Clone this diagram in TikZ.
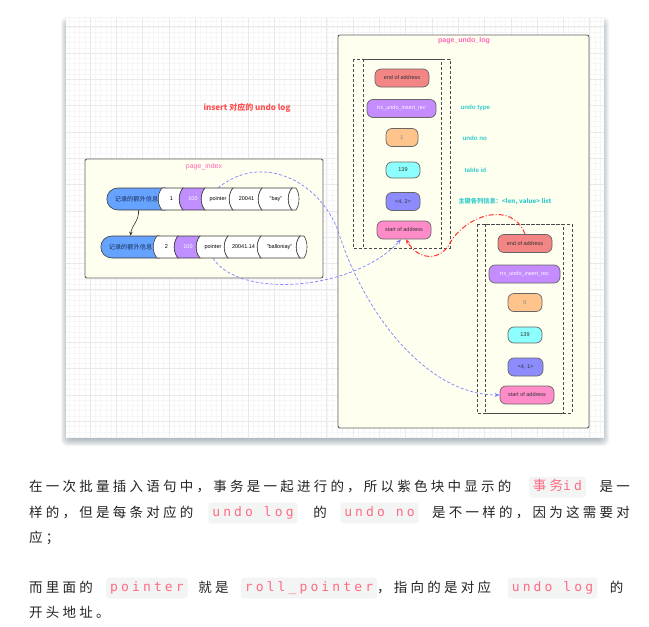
\documentclass[tikz,border=0pt]{standalone}
\usepackage{fontspec}
\setmainfont{Liberation Sans}
\newfontfamily\cjkfont{Noto Sans CJK SC}
\newfontfamily\parafont[LetterSpace=24]{Noto Sans CJK SC}
\newfontfamily\codefont[LetterSpace=24]{DejaVu Sans Mono}
\usetikzlibrary{arrows.meta,positioning,calc,shapes.misc}
\definecolor{gridMinor}{HTML}{F6F6F6}
\definecolor{gridMajor}{HTML}{E9E9E9}
\definecolor{shadowC}{HTML}{4E6573}
\definecolor{boxFill}{HTML}{FFFFF0}
\definecolor{boxLine}{HTML}{626262}
\definecolor{titlePink}{HTML}{FF66B3}
\definecolor{noteRed}{HTML}{FF4D4D}
\definecolor{labelCyan}{HTML}{33CCCC}
\definecolor{recBlue}{HTML}{66A3FF}
\definecolor{recText}{HTML}{1A2F5A}
\definecolor{recPurple}{HTML}{BF8FFF}
\definecolor{cellLine}{HTML}{3A3A3A}
\definecolor{pillLine}{HTML}{666666}
\definecolor{pillText}{HTML}{333333}
\definecolor{endRed}{HTML}{F48585}
\definecolor{trxPurple}{HTML}{C48CFF}
\definecolor{noOrange}{HTML}{FFC48C}
\definecolor{idCyan}{HTML}{8CFFFF}
\definecolor{pkBlue}{HTML}{8C8CFF}
\definecolor{startPink}{HTML}{FF8CC8}
\definecolor{stackLine}{HTML}{4A4A4A}
\definecolor{arrowDark}{HTML}{333333}
\definecolor{linkBlue}{HTML}{7F7FFF}
\definecolor{linkRed}{HTML}{FF3333}
\definecolor{paraText}{HTML}{222222}
\definecolor{codeBg}{HTML}{F3F4F4}
\definecolor{codeFg}{HTML}{FF6B81}

% one cell of a record row: left and right edges curve like "("
\newcommand\reccell[6]{%
  \filldraw[cellline,#4] (#1,#3-11) -- (#2,#3-11)
    .. controls +(-5,6) and +(-5,-6) .. (#2,#3+11) -- (#1,#3+11)
    .. controls +(-5,-6) and +(-5,6) .. (#1,#3-11) -- cycle;
  \node[celltext,#4,fill=none,minimum width={#2-#1}] (#5) at ({(#1+#2)/2-1},#3) {#6};}
\newcommand\reccap[2]{%
  \filldraw[cellline,fill=white] (#1,#2-11) -- (#1+4,#2-11)
    .. controls +(4,6) and +(4,-6) .. (#1+4,#2+11) -- (#1,#2+11)
    .. controls +(-5,-6) and +(-5,6) .. (#1,#2-11) -- cycle;}

\begin{document}
\begin{tikzpicture}[x=1pt,y=-1pt,
    gridminor/.style={draw=gridMinor,line width=0.4pt},
    gridmajor/.style={draw=gridMajor,line width=0.5pt},
    pagebox/.style={draw=boxLine,fill=boxFill,line width=0.9pt,rounded corners=2pt},
    pagetitle/.style={text=titlePink,font=\fontsize{7}{8}\selectfont},
    recbox/.style={rounded rectangle,rounded rectangle east arc=none,draw=cellLine,
                   fill=recBlue,line width=0.6pt,minimum height=22,inner sep=0pt,
                   text=recText,font=\cjkfont\fontsize{6.2}{7}\selectfont},
    cellline/.style={draw=cellLine,line width=0.6pt},
    celltext/.style={inner sep=0pt,minimum height=22,font=\fontsize{5.5}{6}\selectfont},
    undopill/.style={draw=pillLine,line width=0.7pt,rounded corners=6pt,minimum height=18,
                     inner sep=1pt,text=pillText,font=\fontsize{5.5}{6}\selectfont},
    stackbox/.style={draw=stackLine,line width=0.7pt,dash pattern=on 3pt off 2pt},
    fieldlabel/.style={anchor=west,text=labelCyan,font=\bfseries\fontsize{6.2}{7}\selectfont},
    recarr/.style={-{Stealth[length=4pt,width=3.5pt]},draw=arrowDark,line width=0.6pt},
    bluelink/.style={-{Stealth[length=5pt,width=4pt]},draw=linkBlue,line width=0.7pt,
                     dash pattern=on 3pt off 2pt},
    redlink/.style={-{Stealth[length=5pt,width=4pt]},draw=linkRed,line width=1pt,
                    dash pattern=on 5pt off 2pt on 1pt off 2pt},
    paratext/.style={inner sep=0pt,text=paraText,font=\parafont\fontsize{13.5}{16}\selectfont,
                     text height=11,text depth=2.5},
    inlinecode/.style={fill=codeBg,rounded corners=3pt,inner xsep=4pt,inner ysep=0pt,
                       minimum height=21,text=codeFg,font=\codefont\fontsize{13}{16}\selectfont,
                       text height=10,text depth=3}]
  \useasboundingbox (0,0) rectangle (649,627);

  % card with shadow and grid
  \foreach \i in {1,...,10}
    \fill[shadowC,opacity=0.07,rounded corners=6pt] (66+5-\i,18+9-\i) rectangle (604-5+\i,436+\i);
  \fill[white] (66,18) rectangle (604,437);
  \begin{scope}
    \clip (66,18) rectangle (604,437);
    \foreach \x in {68.96,74.22,...,604} \draw[gridminor] (\x,18) -- (\x,437);
    \foreach \y in {21.44,26.7,...,437} \draw[gridminor] (66,\y) -- (604,\y);
    \foreach \x in {90,116.3,...,604} \draw[gridmajor] (\x,18) -- (\x,437);
    \foreach \y in {26.7,53,...,437} \draw[gridmajor] (66,\y) -- (604,\y);
  \end{scope}

  \node[font=\cjkfont\bfseries\fontsize{8}{9}\selectfont,text=noteRed] (note) at (247,108) {insert 对应的 undo log};

  % page_index
  \draw[pagebox] (85,159) rectangle (323,278);
  \node[pagetitle] (pidx) at (204,167) {page\_index};

  \node[recbox,minimum width=59] (r1h) at (136.5,199) {记录的额外信息};
  \reccell{162}{183}{199}{fill=white}{r1a}{1}
  \reccell{183}{205}{199}{fill=recPurple,text=white}{r1b}{100}
  \reccell{205}{233}{199}{fill=white}{r1c}{pointer}
  \reccell{233}{262}{199}{fill=white}{r1d}{20041}
  \reccell{262}{292}{199}{fill=white}{r1e}{"bay"}
  \reccap{292}{199}

  \node[recbox,minimum width=59] (r2h) at (130.5,247) {记录的额外信息};
  \reccell{157}{178}{247}{fill=white}{r2a}{2}
  \reccell{178}{200}{247}{fill=recPurple,text=white}{r2b}{100}
  \reccell{200}{228}{247}{fill=white}{r2c}{pointer}
  \reccell{228}{261}{247}{fill=white}{r2d}{20041.14}
  \reccell{261}{300}{247}{fill=white}{r2e}{"balloniay"}
  \reccap{300}{247}

  \draw[recarr] ([xshift=2]r1h.south) .. controls +(1,10) and +(1,-10) .. (r2h.north);

  % page_undo_log
  \draw[pagebox] (338,35) rectangle (589,428);
  \node[pagetitle,font=\bfseries\fontsize{7}{8}\selectfont] (pundo) at (464,41) {page\_undo\_log};

  \draw[stackbox] (353,59) rectangle (450,248);
  \draw[stackbox] (363,59) rectangle (441,248);
  \node[undopill,fill=endRed,minimum width=54] (le1) at (402,78) {end of address};
  \node[undopill,fill=trxPurple,text=white,minimum width=69] (le2) at (401.5,108.5) {trx\_undo\_insert\_rec};
  \node[undopill,fill=noOrange,text=gray,minimum width=32] (le3) at (402,137.5) {1};
  \node[undopill,fill=idCyan,minimum width=34,minimum height=16] (le4) at (403,170) {139};
  \node[undopill,fill=pkBlue,minimum width=34] (le5) at (403,201.5) {<4, 2>};
  \node[undopill,fill=startPink,minimum width=54] (le6) at (404,230) {start of address};

  \node[fieldlabel] (ltype) at (457,108) {undo type};
  \node[fieldlabel] (lno) at (459,138) {undo no};
  \node[fieldlabel] (lid) at (461,170) {table id};
  \node[fieldlabel,font=\cjkfont\bfseries\fontsize{6.2}{7}\selectfont] (lpk) at (455,202) {主键各列信息：<len, value> list};

  \draw[stackbox] (477,224) rectangle (572,413);
  \draw[stackbox] (485,224) rectangle (563,413);
  \node[undopill,fill=endRed,minimum width=54] (re1) at (525,243.5) {end of address};
  \node[undopill,fill=trxPurple,text=white,minimum width=71] (re2) at (524.5,274) {trx\_undo\_insert\_rec};
  \node[undopill,fill=noOrange,text=gray,minimum width=34] (re3) at (525,302.5) {0};
  \node[undopill,fill=idCyan,minimum width=34,minimum height=16] (re4) at (525,335) {139};
  \node[undopill,fill=pkBlue,minimum width=35] (re5) at (525.5,367) {<4, 1>};
  \node[undopill,fill=startPink,minimum width=54] (re6) at (527,395) {start of address};

  % links
  \draw[redlink] (re1.north) .. controls (512,200) and (466,215) .. (450,243)
                 .. controls (440,262) and (418,260) .. ([xshift=2]le6.south);
  \draw[bluelink] (r1c.north) .. controls (265,150) and (325,185) .. (340,237)
                  .. controls (368,320) and (430,395) .. (re6.west);
  \draw[bluelink] (r2c.south) .. controls (240,300) and (355,290) .. ([xshift=-3]le6.south);

  % text under the card
  \node[paratext,anchor=west] (p1a) at (29,487) {在一次批量插入语句中，事务是一起进行的，所以紫色块中显示的};
  \node[inlinecode] (p1b) at (557.5,487) {{\parafont\fontsize{13.5}{16}\selectfont 事务}id};
  \node[paratext,anchor=east] (p1c) at (630,487) {是一};
  \node[paratext,anchor=west] (p2a) at (29,513) {样的，但是每条对应的};
  \node[inlinecode] (p2b) at (253,513) {undo log};
  \node[paratext] (p2c) at (320,513) {的};
  \node[inlinecode] (p2d) at (379.5,513) {undo no};
  \node[paratext,anchor=east] (p2e) at (630,513) {是不一样的，因为这需要对};
  \node[paratext,anchor=west] (p3a) at (29,538) {应；};
  \node[paratext,anchor=west] (p4a) at (29,588) {而里面的};
  \node[inlinecode] (p4b) at (147,588) {pointer};
  \node[paratext] (p4c) at (213.5,588) {就是};
  \node[inlinecode] (p4d) at (309,588) {roll\_pointer};
  \node[paratext,anchor=west] (p4e) at (377,588) {，指向的是对应};
  \node[inlinecode] (p4f) at (552.5,588) {undo log};
  \node[paratext] (p4g) at (616.5,588) {的};
  \node[paratext,anchor=west] (p5a) at (29,613) {开头地址。};
\end{tikzpicture}
\end{document}
